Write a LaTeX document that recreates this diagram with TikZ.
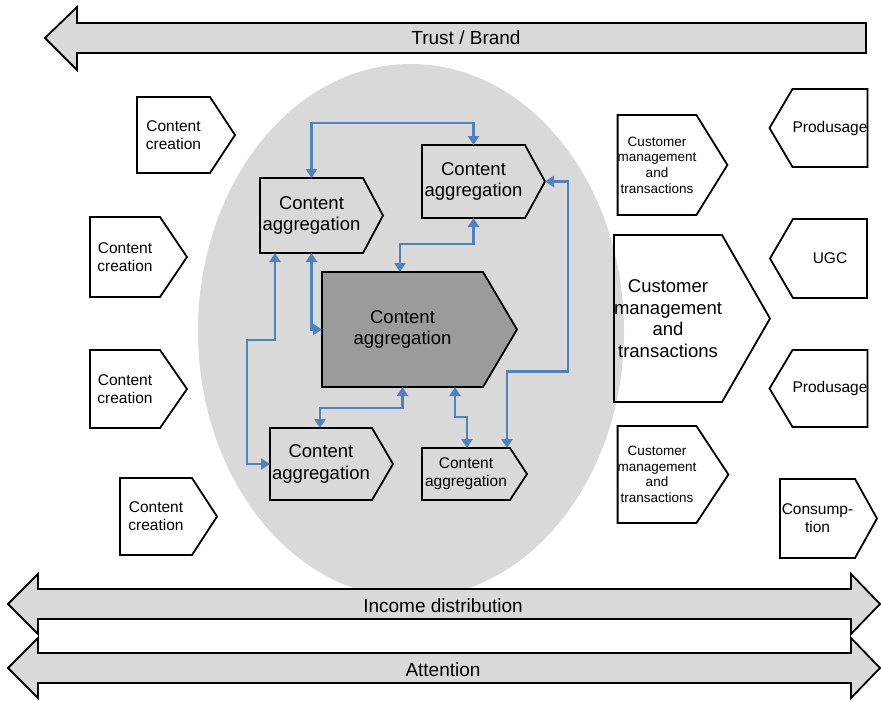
\documentclass[tikz,border=0pt]{standalone}
\usepackage{fontspec}
\setmainfont{Liberation Sans}
\usetikzlibrary{arrows.meta}
\definecolor{bandbg}{HTML}{D9D9D9}
\definecolor{corebg}{HTML}{9B9B9B}
\definecolor{wire}{HTML}{4F81BD}
\pgfdeclarelayer{back}
\pgfsetlayers{back,main}

% outline of a tag box, tip to the east or to the west
\newcommand{\tagE}[3][none]{%
  \coordinate (#2-tip) at ([xshift=#3pt]#2.east);
  \begin{pgfonlayer}{back}
    \draw[edge, fill=#1] (#2.north west) -- (#2.north east) -- (#2-tip) -- (#2.south east) -- (#2.south west) -- cycle;
  \end{pgfonlayer}}
\newcommand{\tagW}[2]{%
  \coordinate (#1-tip) at ([xshift=-#2pt]#1.west);
  \begin{pgfonlayer}{back}
    \draw[edge] (#1.north east) -- (#1.north west) -- (#1-tip) -- (#1.south west) -- (#1.south east) -- cycle;
  \end{pgfonlayer}}

\begin{document}
\begin{tikzpicture}[x=1pt, y=-1pt,
    box/.style={outer sep=0pt, inner sep=0pt, align=center},
    edge/.style={draw=black, line width=1.8pt, line join=miter},
    band/.style={draw=black, line width=1.8pt, line join=miter, fill=bandbg},
    arr/.style={draw=wire, line width=2.4pt, {Triangle[length=9pt,width=11pt]}-{Triangle[length=9pt,width=11pt]}},
    tiny/.style={box, font=\fontsize{13.5}{15.6}\selectfont},
    small/.style={box, font=\fontsize{15.5}{18}\selectfont},
    large/.style={box, font=\fontsize{18.5}{21.5}\selectfont},
    bar/.style={font=\fontsize{19}{22}\selectfont}
]
    \useasboundingbox (0,0) rectangle (881,701);
    \begin{pgfonlayer}{back}
        \fill[bandbg] (411,331) ellipse [x radius=213, y radius=267];
    \end{pgfonlayer}

    % bands
    \draw[band] (866,23) -- (77,23) -- (77,7) -- (45,38) -- (77,70) -- (77,53) -- (866,53) -- cycle;
    \node[bar] (trust) at (466,38) {Trust / Brand};
    \foreach \y/\t/\n in {604/Income distribution/income, 668/Attention/attn} {
        \draw[band] (38,\y-15) -- (851,\y-15) -- (851,\y-30) -- (880,\y) -- (851,\y+30) -- (851,\y+15)
            -- (38,\y+15) -- (38,\y+30) -- (8,\y) -- (38,\y-30) -- cycle;
        \node[bar] (\n) at (443,\y+2) {\t};
    }

    % content creation
    \node[small, minimum width=73, minimum height=76] (cc1) at (173.5,135) {Content\\creation};
    \node[small, minimum width=70, minimum height=80] (cc2) at (125,257) {Content\\creation};
    \node[small, minimum width=70, minimum height=78] (cc3) at (125,389) {Content\\creation};
    \node[small, minimum width=72, minimum height=77] (cc4) at (156,516.5) {Content\\creation};
    \tagE{cc1}{25} \tagE{cc2}{27} \tagE{cc3}{27} \tagE{cc4}{25}

    % content aggregation
    \node[large, minimum width=103, minimum height=75] (ca-tl) at (311.5,215.5) {Content\\aggregation};
    \node[large, minimum width=103, minimum height=73] (ca-tr) at (473.5,181.5) {Content\\aggregation};
    \node[large, minimum width=161, minimum height=115] (core) at (402.5,329.5) {Content\\aggregation};
    \node[large, minimum width=102, minimum height=72] (ca-bl) at (321,464) {Content\\aggregation};
    \node[small, minimum width=88, minimum height=52] (ca-br) at (466,474) {Content\\aggregation};
    \tagE{ca-tl}{20} \tagE{ca-tr}{20} \tagE[corebg]{core}{34} \tagE{ca-bl}{21} \tagE{ca-br}{17}

    % customer side
    \node[tiny, minimum width=70, minimum height=100] (cmt1) at (657,165) {Customer\\management\\and\\transactions};
    \node[large, minimum width=92, minimum height=167] (cmt2) at (668,318.5) {Customer\\management\\and\\transactions};
    \node[tiny, minimum width=70, minimum height=97] (cmt3) at (657,474.5) {Customer\\management\\and\\transactions};
    \tagE{cmt1}{31} \tagE{cmt2}{48} \tagE{cmt3}{32}

    \node[small, minimum width=74, minimum height=78] (pro1) at (830,128) {Produsage};
    \node[small, minimum width=74, minimum height=79] (ugc) at (830,258.5) {UGC};
    \node[small, minimum width=74, minimum height=77] (pro2) at (830,388.5) {Produsage};
    \node[small, minimum width=75, minimum height=79] (cons) at (817.5,518.5) {Consump-\\tion};
    \tagW{pro1}{23} \tagW{ugc}{23} \tagW{pro2}{23}
    \tagE{cons}{22}

    % links between aggregators
    \draw[arr] (ca-tl.north) -- ++(0,-55) -| (ca-tr.north);
    \draw[arr] (ca-tr.south) -- ++(0,26) -| ([xshift=-2.5pt]core.north);
    \draw[arr] (ca-tr-tip) -- ++(23,0) -- ++(0,190) -| ([xshift=41pt]ca-br.north);
    \draw[arr] (core.south) -- ++(0,21) -| ([xshift=-1pt]ca-bl.north);
    \draw[arr] ([xshift=52.5pt]core.south) -- ++(0,30) -| ([xshift=1pt]ca-br.north);
    \draw[arr] (ca-tl.south) |- (core.west);
    \draw[arr] ([xshift=-36.5pt]ca-tl.south) -- ++(0,87) -- ++(-28,0) |- (ca-bl.west);
\end{tikzpicture}
\end{document}
